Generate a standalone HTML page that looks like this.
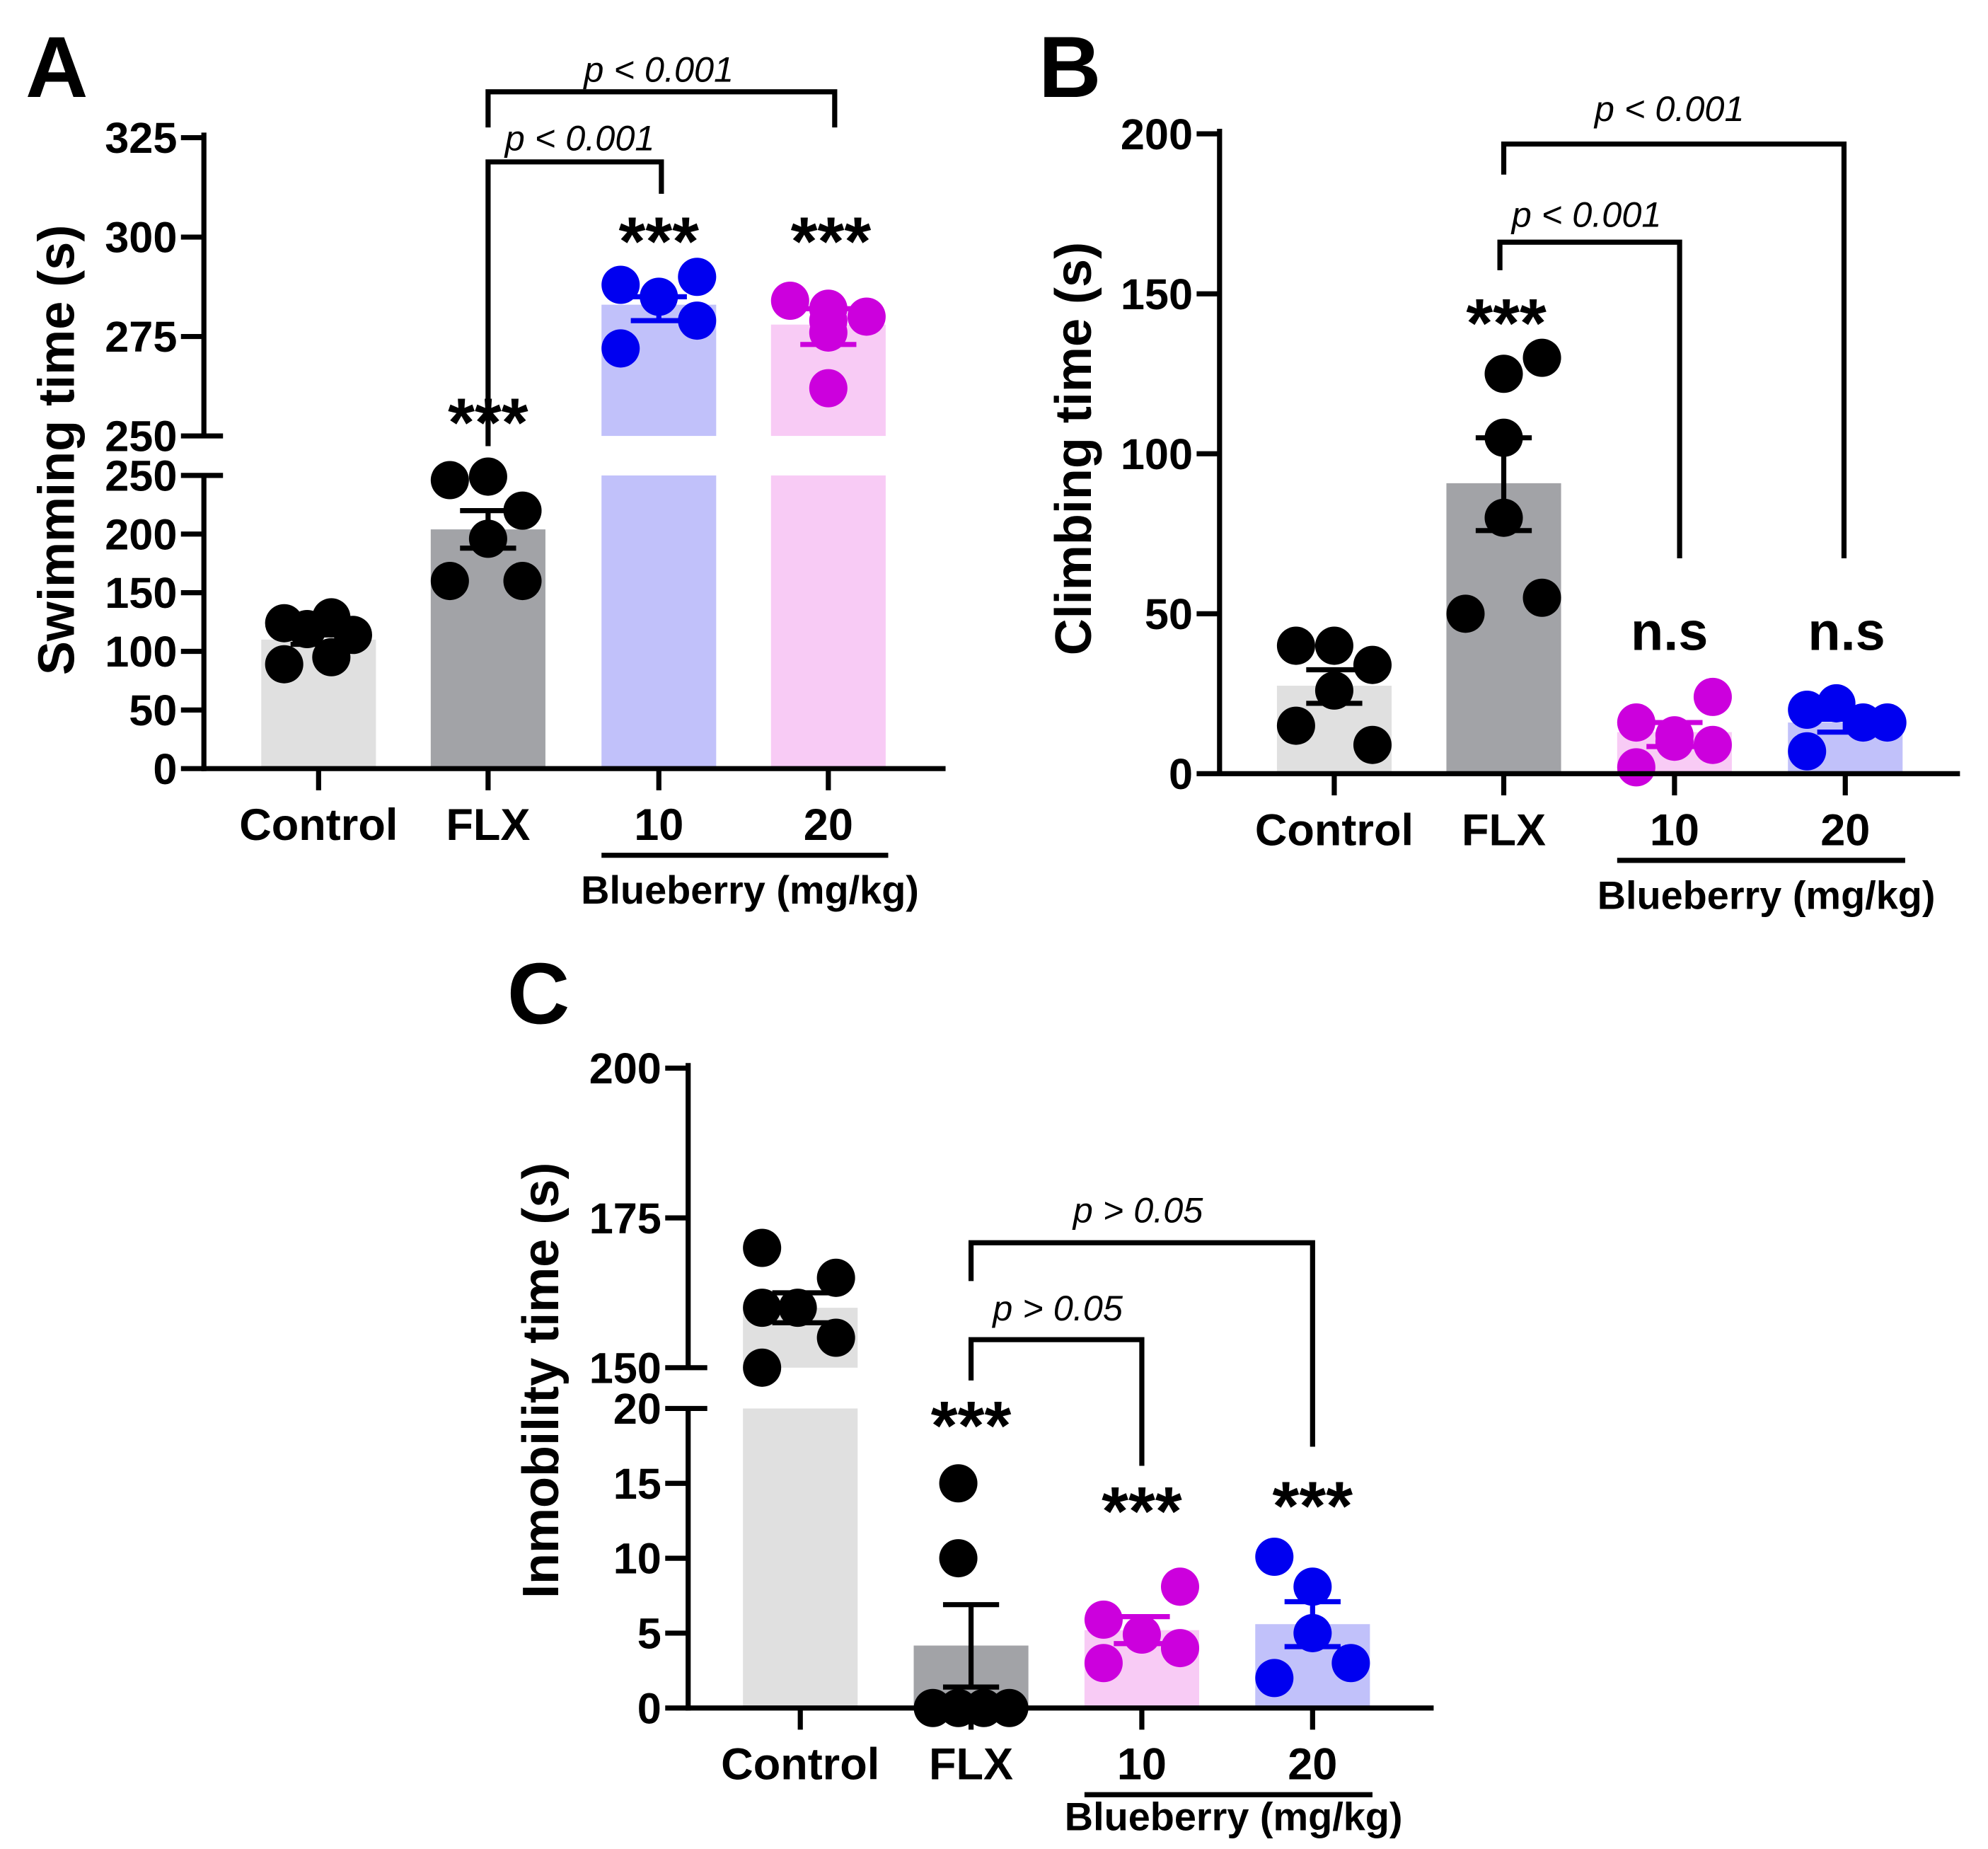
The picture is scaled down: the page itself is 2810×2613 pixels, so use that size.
<!DOCTYPE html>
<html><head><meta charset="utf-8">
<style>
html,body{margin:0;padding:0;background:#fff;}
svg{display:block;}
text{font-family:"Liberation Sans",Arial,sans-serif;}
</style></head>
<body>
<svg id="fig" xmlns="http://www.w3.org/2000/svg" width="2810" height="2613" viewBox="0 0 1560 1450.6">
<rect x="0" y="0" width="1560" height="1451" fill="#fff"/>
<g id="root"></g>
</svg>
<script>
// ---------- DATA ----------
const categories = ["Control", "FLX", "10", "20"];
const groupLabel = "Blueberry (mg/kg)";

const swimPoints = [
  [124, 129, 114, 89, 95, 119],
  [246, 249, 220, 196, 160, 160],
  [288, 285, 290, 279, 272],
  [284, 279, 280, 276, 262, 282]
];
const swimMeans = [110, 204, 283, 278];
const swimSemHi = [114, 220, 285, 282];
const swimSemLo = [106, 188, 279, 273];
const swimTicksUpper = [250, 275, 300, 325];
const swimTicksLower = [0, 50, 100, 150, 200, 250];

const climbPoints = [
  [40, 40, 34, 26, 15, 9],
  [125, 130, 105, 80, 50, 55],
  [16, 10, 24, 9, 2, 12],
  [20, 22, 16, 16, 7]
];
const climbMeans = [27.5, 90.8, 13, 16];
const climbSemHi = [32.5, 105, 16, 17];
const climbSemLo = [22, 76, 8.5, 13];
const climbTicks = [0, 50, 100, 150, 200];

const immobPoints = [
  [170, 165, 160, 160, 155, 150],
  [15, 10, 0, 0, 0, 0],
  [5.9, 4.9, 8.1, 4, 3],
  [10.1, 8.1, 5, 3, 2]
];
const immobMeans = [160, 4.17, 5.2, 5.6];
const immobSemHi = [162.5, 6.9, 6.1, 7.1];
const immobSemLo = [157.5, 1.4, 4.3, 4.1];
const immobTicksUpper = [150, 175, 200];
const immobTicksLower = [0, 5, 10, 15, 20];

// ---------- HELPERS ----------
const NS = "http://www.w3.org/2000/svg";
const root = document.getElementById("root");
function mk(tag, attrs, parent, txt) {
  const e = document.createElementNS(NS, tag);
  for (const k in attrs) e.setAttribute(k, attrs[k]);
  if (txt !== undefined) e.textContent = txt;
  (parent || root).appendChild(e);
  return e;
}
function line(x1, y1, x2, y2, p, w, col) {
  return mk("line", {x1, y1, x2, y2, stroke: col || "#000", "stroke-width": w || 4, "stroke-linecap": "butt"}, p);
}

function drawPanel(cfg) {
  const g = mk("g", {});
  
  
  const ax = cfg.axisX;
  const L = mk("text", {x: cfg.letterX, y: cfg.letterY, "font-size": 68, "font-weight": "bold"}, g, cfg.letter);
  
  
  cfg.means.forEach((m, i) => {
    const cx = cfg.cx[i];
    cfg.segments.forEach(seg => {
      const hi = Math.min(seg.max, m);
      if (hi > seg.min) {
        const yTop = seg.y(hi), yBot = seg.y(seg.min);
        const r = mk("rect", {x: cx - 45, y: yTop, width: 90, height: yBot - yTop, fill: cfg.barColors[i]}, g);
        
        
      }
    });
  });
  cfg.points.forEach((arr, i) => {
    arr.forEach((v, j) => {
      const seg = cfg.segFor(v);
      const off = cfg.offs[i][j % 6];
      const c = mk("circle", {cx: cfg.cx[i] + off, cy: seg.y(v), r: 15, fill: cfg.dotColors[i]}, g);
      
      
    });
  });
  cfg.means.forEach((m, i) => {
    const cx = cfg.cx[i], col = cfg.dotColors[i];
    const sH = cfg.segFor(cfg.semHi[i]), sL = cfg.segFor(cfg.semLo[i]);
    const yH = sH.y(cfg.semHi[i]), yL = sL.y(cfg.semLo[i]);
    const eg = mk("g", {}, g);
    
    
    line(cx, yH, cx, yL, eg, 4, col);
    line(cx - 22, yH, cx + 22, yH, eg, 4, col);
    line(cx - 22, yL, cx + 22, yL, eg, 4, col);
  });
  cfg.segments.forEach(seg => {
    const yt = seg.y(seg.max), yb = seg.y(seg.min);
    const a = line(ax, yt - (seg.top ? 4 : 0), ax, yb + (seg.bottom ? 2 : 0), g, 4);
    
    
    seg.ticks.forEach(t => {
      const y = seg.y(t);
      const isBreak = (seg.breakAt !== undefined && t === seg.breakAt);
      line(ax - 18, y, ax + (isBreak ? 15 : 0), y, g, 4);
      const tl = mk("text", {x: ax - 21, y: y + 12, "font-size": 34, "font-weight": "bold", "text-anchor": "end"}, g, String(t));
      
      
    });
  });
  const xa = line(ax - 2, cfg.baseY, cfg.xEnd, cfg.baseY, g, 4);
  
  
  categories.forEach((c, i) => {
    line(cfg.cx[i], cfg.baseY, cfg.cx[i], cfg.baseY + 17, g, 4);
    const t = mk("text", {x: cfg.cx[i], y: cfg.baseY + 56, "font-size": 35, "font-weight": "bold", "text-anchor": "middle"}, g, c);
    
    
  });
  line(cfg.cx[2] - 45, cfg.baseY + 68, cfg.cx[3] + 47, cfg.baseY + 68, g, 4);
  const gl = mk("text", {x: (cfg.cx[2] + cfg.cx[3]) / 2 + 5, y: cfg.baseY + cfg.groupDy, "font-size": 31, "font-weight": "bold", "text-anchor": "middle"}, g, groupLabel);
  
  
  const yt = mk("text", {x: 0, y: 0, "font-size": 40, "font-weight": "bold", "text-anchor": "middle",
    transform: `translate(${cfg.titleX},${cfg.titleY}) rotate(-90)`}, g, cfg.title);
  
  
  cfg.brackets.forEach(b => {
    const bg = mk("g", {}, g);
    
    
    mk("polyline", {points: `${b.x1},${b.y1} ${b.x1},${b.y} ${b.x2},${b.y} ${b.x2},${b.y2}`, fill: "none", stroke: "#000", "stroke-width": 4}, bg);
    const bt = mk("text", {x: b.tx, y: b.ty, "font-size": 28, "font-style": "italic", "text-anchor": "middle"}, bg, b.label);
    
    
  });
  cfg.marks.forEach(m => {
    const t = mk("text", {x: m.x, y: m.y, "font-size": m.s === "n.s" ? 42 : 54, "font-weight": "bold", "text-anchor": "middle"}, g, m.s);
    
    
  });
}

// ---------- PANEL A ----------
(function () {
  const lower = {min: 0, max: 250, y: v => 603 - v * (230 / 250), ticks: swimTicksLower, breakAt: 250, bottom: true};
  const upper = {min: 250, max: 325, y: v => 342 - (v - 250) * (78 / 25), ticks: swimTicksUpper, breakAt: 250, top: true};
  drawPanel({
    name: "panel-a-swimming", letter: "A", letterX: 20, letterY: 76,
    axisX: 160, baseY: 603, xEnd: 742, cx: [250, 383, 517, 650], groupDy: 106,
    segments: [lower, upper], segFor: v => v > 250 ? upper : lower,
    means: swimMeans, semHi: swimSemHi, semLo: swimSemLo, points: swimPoints,
    offs: [[-27, 10, 27, -27, 10, -9], [-30, 0, 27, 0, -30, 27], [-30, 0, 30, 30, -30], [-30, 0, 30, 0, 0, 0]],
    barColors: ["#e0e0e0", "#a2a3a7", "#c1c1fa", "#f8cbf5"],
    dotColors: ["#000", "#000", "#0000f0", "#cc00dd"],
    title: "Swimming time (s)", titleX: 58, titleY: 353,
    brackets: [
      {x1: 383, y1: 350, y: 127, x2: 519, y2: 152, tx: 455, ty: 118, label: "p < 0.001"},
      {x1: 383, y1: 100, y: 72, x2: 655, y2: 100, tx: 517, ty: 64, label: "p < 0.001"}
    ],
    marks: [{x: 383, y: 350, s: "***"}, {x: 517, y: 208, s: "***"}, {x: 652, y: 208, s: "***"}]
  });
})();

// ---------- PANEL B ----------
(function () {
  const seg = {min: 0, max: 200, y: v => 607 - v * (502 / 200), ticks: climbTicks, top: true, bottom: true};
  drawPanel({
    name: "panel-b-climbing", letter: "B", letterX: 815, letterY: 76,
    axisX: 957, baseY: 607, xEnd: 1538, cx: [1047, 1180, 1314, 1448], groupDy: 106,
    segments: [seg], segFor: () => seg,
    means: climbMeans, semHi: climbSemHi, semLo: climbSemLo, points: climbPoints,
    offs: [[-30, 0, 30, 0, -30, 30], [0, 30, 0, 0, -30, 30], [-30, 0, 30, 30, -30, 0], [-30, -7, 14, 33, -30]],
    barColors: ["#e0e0e0", "#a2a3a7", "#f8cbf5", "#c1c1fa"],
    dotColors: ["#000", "#000", "#cc00dd", "#0000f0"],
    title: "Climbing time (s)", titleX: 856, titleY: 352,
    brackets: [
      {x1: 1177, y1: 212, y: 190, x2: 1318, y2: 438, tx: 1245, ty: 178, label: "p < 0.001"},
      {x1: 1180, y1: 137, y: 113, x2: 1447, y2: 438, tx: 1310, ty: 95, label: "p < 0.001"}
    ],
    marks: [{x: 1182, y: 272, s: "***"}, {x: 1310, y: 510, s: "n.s"}, {x: 1449, y: 510, s: "n.s"}]
  });
})();

// ---------- PANEL C ----------
(function () {
  const lower = {min: 0, max: 20, y: v => 1340 - v * (235 / 20), ticks: immobTicksLower, breakAt: 20, bottom: true};
  const upper = {min: 150, max: 200, y: v => 1073 - (v - 150) * (235 / 50), ticks: immobTicksUpper, breakAt: 150, top: true};
  drawPanel({
    name: "panel-c-immobility", letter: "C", letterX: 398, letterY: 803,
    axisX: 540, baseY: 1340, xEnd: 1125, cx: [628, 762, 896, 1030], groupDy: 96,
    segments: [lower, upper], segFor: v => v > 20 ? upper : lower,
    means: immobMeans, semHi: immobSemHi, semLo: immobSemLo, points: immobPoints,
    offs: [[-30, 28, -30, -2, 28, -30], [-10, -10, -30, -10, 10, 30], [-30, 0, 30, 30, -30], [-30, 0, 0, 30, -30]],
    barColors: ["#e0e0e0", "#a2a3a7", "#f8cbf5", "#c1c1fa"],
    dotColors: ["#000", "#000", "#cc00dd", "#0000f0"],
    title: "Inmobility time (s)", titleX: 438, titleY: 1083,
    brackets: [
      {x1: 762, y1: 1083, y: 1051, x2: 896, y2: 1150, tx: 830, ty: 1036, label: "p > 0.05"},
      {x1: 762, y1: 1005, y: 975, x2: 1030, y2: 1135, tx: 893, ty: 959, label: "p > 0.05"}
    ],
    marks: [{x: 762, y: 1137, s: "***"}, {x: 896, y: 1204, s: "***"}, {x: 1030, y: 1200, s: "***"}]
  });
})();
</script>
</body></html>
